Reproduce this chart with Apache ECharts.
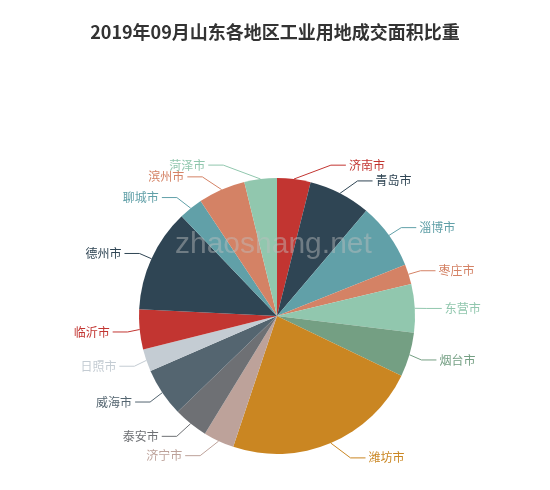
<!DOCTYPE html>
<html><head><meta charset="utf-8">
<script src="https://cdn.jsdelivr.net/npm/echarts@6/dist/echarts.min.js"></script>
<style>html,body{margin:0;padding:0;background:#fff;}#c{width:550px;height:490px;}</style>
</head><body><div id="c"></div>
<script>
var categories = ['济南市','青岛市','淄博市','枣庄市','东营市','烟台市','潍坊市','济宁市','泰安市','威海市','日照市','临沂市','德州市','聊城市','滨州市','菏泽市'];
var values = [3.92,7.28,7.75,2.33,5.67,5.17,23.03,3.61,4.03,5.69,2.64,4.67,12.08,2.81,5.53,3.81];
var colors = ['#c23531','#2f4554','#61a0a8','#d48265','#91c7ae','#749f83','#ca8622','#bda29a','#6e7074','#546570','#c4ccd3'];
var titleText = '2019年09月山东各地区工业用地成交面积比重';

var CX = 277, CY = 316, R = 138, LEN = 15, LEN2 = 15;
var chart = echarts.init(document.getElementById('c'));
chart.setOption({
  animation:false,
  color: colors,
  title:{text:titleText,left:'center',top:18,textStyle:{fontSize:18,fontWeight:'bold',color:'#333',fontFamily:'Noto Sans CJK SC'}},
  graphic:[{type:'text',left:175,top:230,z:100,style:{text:'zhaoshang.net',fontSize:30,fontFamily:'Liberation Sans',fill:'rgba(190,190,190,0.45)'}}],
  series:[{
    type:'pie',
    center:[CX,CY],
    radius:R,
    startAngle:90,
    label:{fontSize:12,fontFamily:'Noto Sans CJK SC'},
    labelLine:{length:LEN,length2:LEN2},
    // classic (ECharts 4 style) outside-label placement along an outer circle
    labelLayout:function(p){
      var e = p.labelLinePoints[0];
      var ux = (e[0]-CX)/R, uy = (e[1]-CY)/R;
      var dir = ux < 0 ? -1 : 1;
      var y1 = CY + (R+LEN)*uy;
      var x1 = CX + (R+LEN)*ux;
      var dy = Math.abs(y1-CY);
      var RR = R+LEN+LEN2;
      var textX = dy < R+LEN ? CX + dir*Math.sqrt(RR*RR-dy*dy) : x1 + dir*(LEN2+5);
      var x3 = textX - dir*3;
      var x2 = x3 - dir*LEN2;
      return {x:textX, y:y1+1, align:dir>0?'left':'right', verticalAlign:'middle',
        labelLinePoints:[[e[0],e[1]],[x2,y1+1],[x3,y1+1]]};
    },
    data: categories.map(function(n,i){return {name:n,value:values[i],label:{color:colors[i%colors.length]}};})
  }]
});
</script></body></html>
